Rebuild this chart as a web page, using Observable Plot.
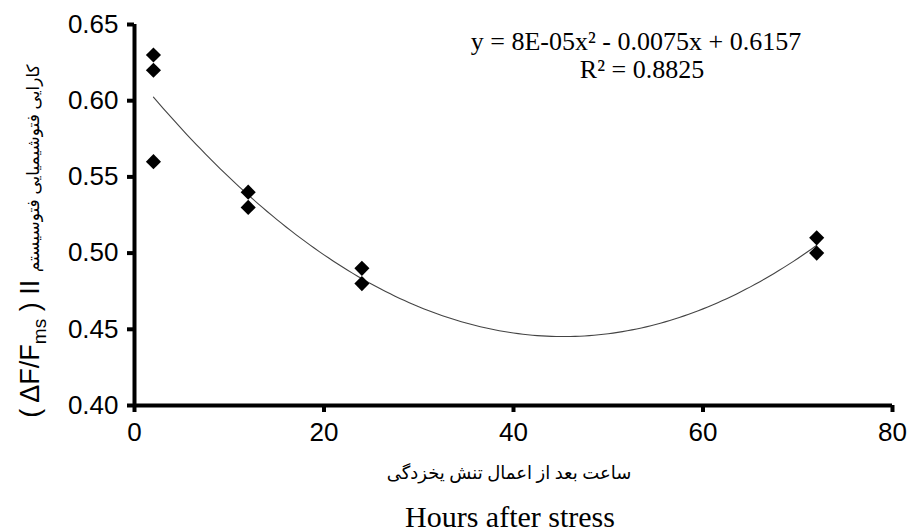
<!DOCTYPE html>
<html>
<head>
<meta charset="utf-8">
<script src="https://cdn.jsdelivr.net/npm/d3@7"></script>
<script src="https://cdn.jsdelivr.net/npm/@observablehq/plot@0.6"></script>
<style>
  html, body { margin: 0; padding: 0; background: #fff; overflow: hidden; }
  #wrap { position: relative; width: 907px; height: 532px; }
  #chart svg { display: block; }
  .lbl { position: absolute; white-space: nowrap; color: #000; }
  .serif { font-family: 'Liberation Serif', 'Times New Roman', serif; }
  .sans { font-family: 'Liberation Sans', Arial, 'DejaVu Sans', sans-serif; }
</style>
</head>
<body>
<div id="wrap">
  <div id="chart"></div>
  <div id="eq1" class="lbl serif" style="left:436px; top:29px; width:400px; text-align:center; font-size:26px; line-height:26px;"></div>
  <div id="eq2" class="lbl serif" style="left:442px; top:57px; width:400px; text-align:center; font-size:26px; line-height:26px;"></div>
  <div id="xfa" class="lbl" dir="rtl" style="left:309px; top:464px; width:400px; text-align:center; font-family:'Liberation Serif','DejaVu Sans',serif; font-size:18px; line-height:18px;"></div>
  <div id="xen" class="lbl serif" style="left:310px; top:502px; width:400px; text-align:center; font-size:30px; line-height:30px;"></div>
  <div id="ylab" class="lbl sans" style="left:-220px; top:226px; width:500px; height:30px; text-align:center; font-size:27px; line-height:30px; transform:rotate(-90deg); transform-origin:50% 50%;"></div>
</div>
<script>
// ---- data ----
const hours = [2, 2, 2, 12, 12, 24, 24, 72, 72];
const efficiency = [0.63, 0.62, 0.56, 0.54, 0.53, 0.49, 0.48, 0.51, 0.50];
const xTicks = [0, 20, 40, 60, 80];
const yTicks = [0.40, 0.45, 0.50, 0.55, 0.60, 0.65];
const equationLine1 = "y = 8E-05x² - 0.0075x + 0.6157";
const equationLine2 = "R² = 0.8825";
const xLabelFa = "ساعت بعد از اعمال تنش یخزدگی";
const xLabelEn = "Hours after stress";
const yLabelFa = "کارایی فتوشیمیایی فتوسیستم";

const points = hours.map((h, i) => ({hours: h, value: efficiency[i]}));
const xDomain = [d3.min(xTicks), d3.max(xTicks)];
const yDomain = [d3.min(yTicks), d3.max(yTicks)];

// ---- quadratic least-squares trend line (as Excel's polynomial trendline) ----
function quadFit(xs, ys) {
  const S = k => d3.sum(xs, x => x ** k);
  const T = k => d3.sum(xs, (x, i) => x ** k * ys[i]);
  const A = [[S(0), S(1), S(2), T(0)], [S(1), S(2), S(3), T(1)], [S(2), S(3), S(4), T(2)]];
  for (let c = 0; c < 3; c++) {
    for (let r = c + 1; r < 3; r++) {
      const f = A[r][c] / A[c][c];
      for (let k = c; k < 4; k++) A[r][k] -= f * A[c][k];
    }
  }
  const sol = [0, 0, 0];
  for (let r = 2; r >= 0; r--) {
    let s = A[r][3];
    for (let k = r + 1; k < 3; k++) s -= A[r][k] * sol[k];
    sol[r] = s / A[r][r];
  }
  return sol; // a + b x + c x^2
}
const [ca, cb, cc] = quadFit(hours, efficiency);
const xMin = d3.min(hours), xMax = d3.max(hours);
const trend = d3.range(xMin, xMax + 0.001, 0.5).map(x => ({hours: x, value: ca + cb * x + cc * x * x}));

const chart = Plot.plot({
  width: 907,
  height: 532,
  marginTop: 24,
  marginLeft: 134,
  marginRight: 15,
  marginBottom: 127,
  style: {fontFamily: "'Liberation Sans', Arial, sans-serif", fontSize: "26px", color: "#000", background: "#fff"},
  x: {domain: xDomain},
  y: {domain: yDomain},
  marks: [
    Plot.axisX({ticks: xTicks, tickSize: 7, tickPadding: 10, strokeWidth: 4, label: null, fontSize: 26}),
    Plot.axisY({ticks: yTicks, tickSize: 7, tickPadding: 9, strokeWidth: 4, label: null, tickFormat: d3.format(".2f"), fontSize: 26}),
    Plot.ruleX([xDomain[0]], {y1: yDomain[0], y2: yDomain[1], stroke: "#000", strokeWidth: 4}),
    Plot.ruleY([yDomain[0]], {x1: xDomain[0], x2: xDomain[1], stroke: "#000", strokeWidth: 4}),
    Plot.line(trend, {x: "hours", y: "value", stroke: "#444", strokeWidth: 1.1}),
    Plot.dot(points, {x: "hours", y: "value", symbol: "diamond2", r: 6.8, fill: "#000", stroke: "none"})
  ]
});
document.getElementById("chart").appendChild(chart);

// text labels (HTML overlays)
document.getElementById("eq1").textContent = equationLine1;
document.getElementById("eq2").textContent = equationLine2;
document.getElementById("xfa").textContent = xLabelFa;
document.getElementById("xen").textContent = xLabelEn;
const yl = document.getElementById("ylab");
const addSpan = (txt, style) => { const s = document.createElement("span"); s.textContent = txt; if (style) s.setAttribute("style", style); yl.appendChild(s); };
addSpan("( ΔF/F");
addSpan("ms", "font-size:19px; vertical-align:-7px; line-height:1;");
addSpan(" ) II ");
addSpan(yLabelFa, "font-size:17px; line-height:1;");
</script>
</body>
</html>
